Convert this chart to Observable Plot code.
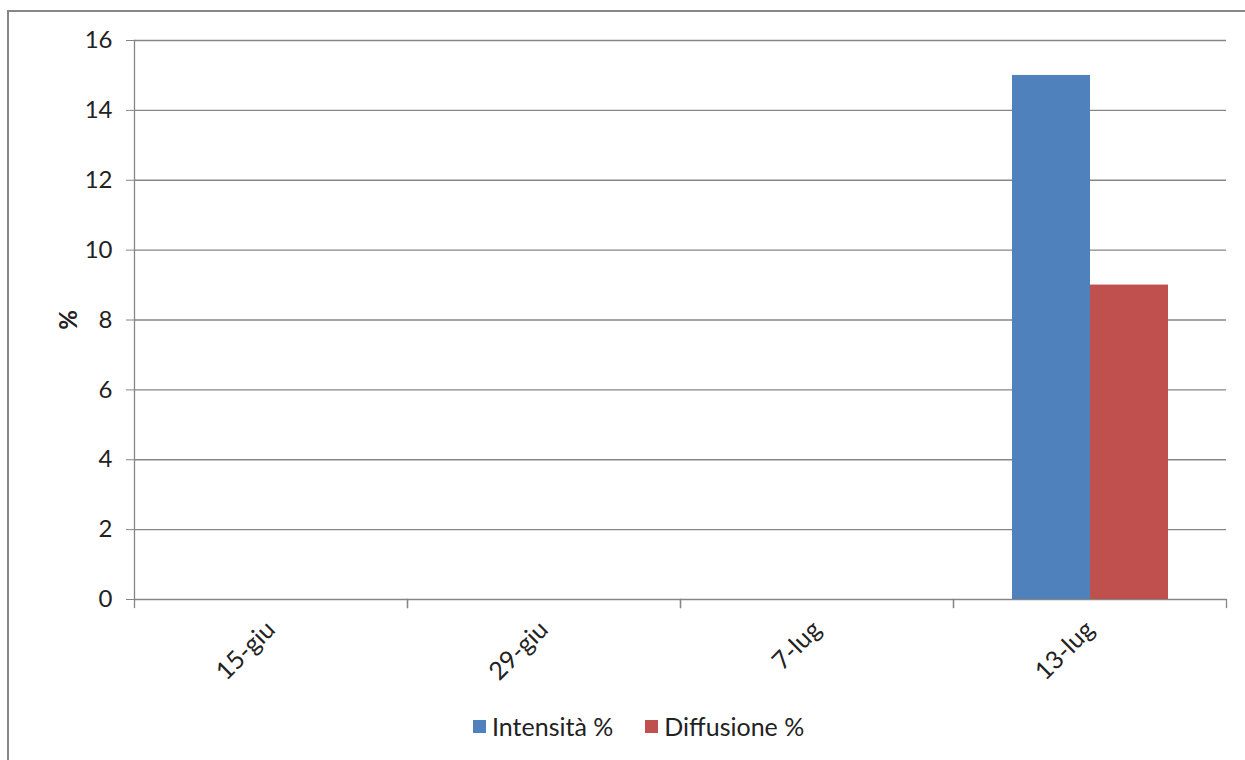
<!DOCTYPE html>
<html><head><meta charset="utf-8">
<script src="https://cdn.jsdelivr.net/npm/d3@7"></script>
<script src="https://cdn.jsdelivr.net/npm/@observablehq/plot@0.6"></script>
<style>
body{margin:0;background:#fff;overflow:hidden;font-family:Lato,sans-serif;}
#wrap{position:relative;width:1245px;height:760px;overflow:hidden;background:#fff;}
#border{position:absolute;left:7px;top:10px;width:1300px;height:800px;border:2px solid #878787;box-sizing:border-box;}
#chart{position:absolute;left:0;top:0;}
#legend{position:absolute;top:711px;left:473px;display:flex;align-items:center;font-family:Lato,sans-serif;font-size:25px;color:#222;white-space:nowrap;}
#legend .sw{display:inline-block;width:13px;height:13px;margin-right:6px;}
#legend .item{display:flex;align-items:center;margin-right:32px;}
g[aria-label="y-axis label"] text{font-weight:bold;}
g[aria-label="fx-axis tick label"] text{font-size:25px;}
</style></head>
<body>
<div id="wrap"><div id="border"></div><div id="chart"></div><div id="legend"></div></div>
<script>
const dates = ["15-giu","29-giu","7-lug","13-lug"];
const series = ["Intensità %","Diffusione %"];
const intensita = [0,0,0,15];
const diffusione = [0,0,0,9];
const colors = ["#4F81BD","#C0504D"];
const yTicks = [0,2,4,6,8,10,12,14,16];

const table = dates.flatMap((d,i)=>[
  {date:d,series:series[0],value:intensita[i]},
  {date:d,series:series[1],value:diffusione[i]}
]);
const grey = "#868686";
const chart = Plot.plot({
  width:1245,height:700,
  marginLeft:133,marginRight:19,marginTop:40,marginBottom:101,
  style:{fontFamily:"Lato",fontSize:"24px",color:"#222",background:"transparent",overflow:"visible"},
  fx:{domain:dates,padding:0,label:null},
  x:{domain:series,paddingInner:0,paddingOuter:0.75,axis:null},
  y:{domain:[0,16],label:"%"},
  color:{domain:series,range:colors},
  marks:[
    Plot.ruleY(yTicks,{stroke:grey,strokeWidth:1.3}),
    Plot.barY(table,{fx:"date",x:"series",y:"value",fill:"series"}),
    Plot.frame({anchor:"left",stroke:grey,strokeWidth:1.3,facetAnchor:"left"}),
    Plot.frame({anchor:"left",stroke:grey,strokeWidth:1.3,insetTop:559,insetBottom:-8}),
    Plot.frame({anchor:"right",stroke:grey,strokeWidth:1.3,insetTop:559,insetBottom:-8}),
    Plot.axisY({ticks:yTicks,tickSize:8,tickPadding:14,stroke:grey,fill:"#222",label:"%",labelAnchor:"center",labelArrow:"none",labelOffset:75}),
    Plot.axisFx({anchor:"bottom",tickRotate:-45,tickSize:0,tickPadding:26,label:null,fill:"#222"})
  ]
});
document.getElementById("chart").appendChild(chart);
const lg = document.getElementById("legend");
series.forEach((s,i)=>{
  const it = document.createElement("span"); it.className="item";
  const sw = document.createElement("span"); sw.className="sw"; sw.style.background=colors[i];
  it.appendChild(sw); it.appendChild(document.createTextNode(s)); lg.appendChild(it);
});
</script>
</body></html>
